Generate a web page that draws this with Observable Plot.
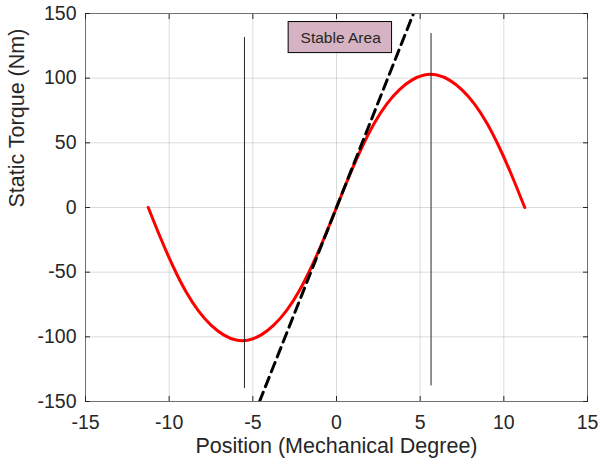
<!DOCTYPE html>
<html>
<head>
<meta charset="utf-8">
<script src="https://cdn.jsdelivr.net/npm/d3@7"></script>
<script src="https://cdn.jsdelivr.net/npm/@observablehq/plot@0.6"></script>
<style>
  html, body { margin: 0; padding: 0; background: #fff; }
  #chart svg { font-family: "Liberation Sans", Arial, sans-serif; }
</style>
</head>
<body>
<div id="chart"></div>
<script>
// Static torque curve
const positionDeg = [-11.25, -10.5, -9.75, -9, -8.25, -7.5, -6.75, -6, -5.25, -4.5, -3.75, -3, -2.25, -1.5, -0.75, 0,
                     0.75, 1.5, 2.25, 3, 3.75, 4.5, 5.25, 6, 6.75, 7.5, 8.25, 9, 9.75, 10.5, 11.25];
const torqueNm = [0, -24, -46, -65, -80, -91, -98.5, -102.5, -102.5, -98.5, -91, -80, -65, -46, -24, 0,
                  24, 46, 65, 80, 91, 98.5, 102.5, 102.5, 98.5, 91, 80, 65, 46, 24, 0];

// Dashed stiffness line (endpoints at the plot edges)
const stiffX = [-4.6, 4.6];
const stiffY = [-150, 150];

// Vertical marker lines
const markerX = [-5.5, 5.65];
const markerYlow = [-140, -138];
const markerYhigh = [131.5, 134.5];

// Annotation
const annotationText = ["Stable Area"];
const annotationX = [0.25];
const annotationY = [131.4];
const annotationBox = [{x1: -2.86, x2: 3.32, y1: 119.4, y2: 143.4}];

// Axis ticks
const xTicks = [-15, -10, -5, 0, 5, 10, 15];
const yTicks = [-150, -100, -50, 0, 50, 100, 150];

const curve = positionDeg.map((x, i) => ({x, y: torqueNm[i]}));
const stiff = stiffX.map((x, i) => ({x, y: stiffY[i]}));
const markers = markerX.map((x, i) => ({x, y1: markerYlow[i], y2: markerYhigh[i]}));
const annot = annotationText.map((t, i) => ({t, x: annotationX[i], y: annotationY[i]}));

const ink = "#262626";
const fs = 19.5;
const fmt = d => String(d);

const chart = Plot.plot({
  width: 600,
  height: 470,
  marginLeft: 85,
  marginRight: 13,
  marginTop: 13,
  marginBottom: 69,
  style: {color: ink, background: "#fff", fontFamily: "'Liberation Sans', Arial, sans-serif"},
  x: {domain: [-15, 15], axis: null},
  y: {domain: [-150, 150], axis: null},
  marks: [
    Plot.gridX(xTicks, {stroke: "#000", strokeOpacity: 0.14}),
    Plot.gridY(yTicks, {stroke: "#000", strokeOpacity: 0.14}),
    Plot.line(curve, {x: "x", y: "y", stroke: "#ff0000", strokeWidth: 3, curve: "natural"}),
    Plot.ruleX(markers, {x: "x", y1: "y1", y2: "y2", stroke: ink, strokeWidth: 1}),
    Plot.line(stiff, {x: "x", y: "y", stroke: "#000", strokeWidth: 3, strokeDasharray: "10,6", clip: true}),
    Plot.rect(annotationBox, {x1: "x1", x2: "x2", y1: "y1", y2: "y2", fill: "#d6b3c2", stroke: "#000", strokeWidth: 1}),
    Plot.text(annot, {x: "x", y: "y", text: "t", fontSize: 15.5, fill: ink}),
    Plot.frame({stroke: "#707070", strokeWidth: 1}),
    // inward ticks on all four sides
    Plot.axisX(xTicks, {anchor: "bottom", tickSize: -5, tickFormat: () => "", label: null, stroke: ink}),
    Plot.axisX(xTicks, {anchor: "top", tickSize: -5, tickFormat: () => "", label: null, stroke: ink}),
    Plot.axisY(yTicks, {anchor: "left", tickSize: -5, tickFormat: () => "", label: null, stroke: ink}),
    Plot.axisY(yTicks, {anchor: "right", tickSize: -5, tickFormat: () => "", label: null, stroke: ink}),
    // tick labels
    Plot.axisX(xTicks, {anchor: "bottom", tickSize: 0, tickPadding: 14, fontSize: fs, label: null, fill: ink, tickFormat: fmt}),
    Plot.axisY(yTicks, {anchor: "left", tickSize: 0, tickPadding: 9, fontSize: fs, label: null, fill: ink, tickFormat: fmt}),
    // axis titles
    Plot.text(["Position (Mechanical Degree)"], {frameAnchor: "bottom", dy: 51, fontSize: 21.5, fill: ink}),
    Plot.text(["Static Torque (Nm)"], {frameAnchor: "left", dx: -68, rotate: -90, fontSize: 21.5, fill: ink})
  ]
});
document.getElementById("chart").appendChild(chart);
</script>
</body>
</html>
